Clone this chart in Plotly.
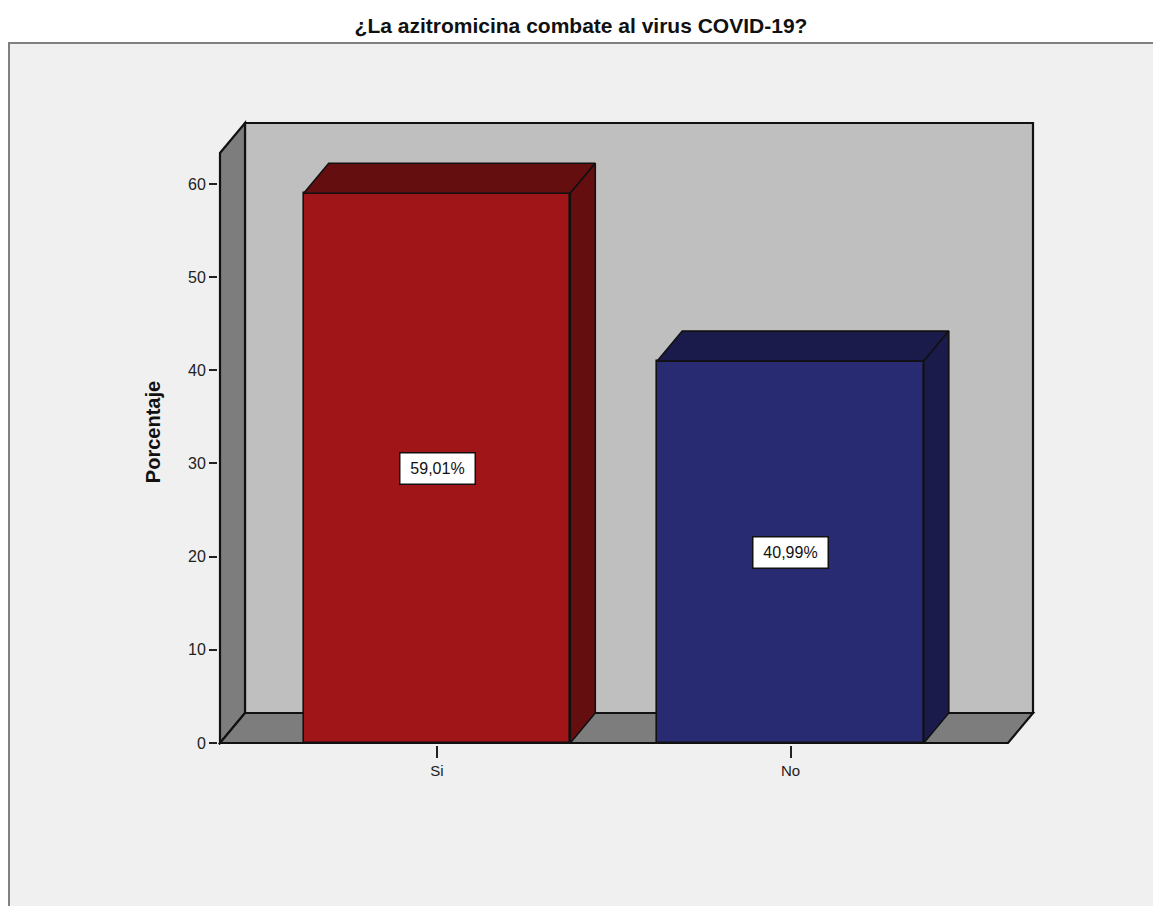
import plotly.graph_objects as go

# Data
categories = ["Si", "No"]
porcentaje = [59.01, 40.99]
etiquetas = ["59,01%", "40,99%"]
y_ticks = [0, 10, 20, 30, 40, 50, 60]

# Style
FONT = "Liberation Sans, Arial, sans-serif"
caras = ["#a01518", "#282a72"]
lados = ["#650e10", "#1a1b4b"]
PARED = "#bfbfbf"
SUELO = "#7d7d7d"
FONDO = "#f0f0f0"
NEGRO = "#111111"

# Scale: 354 px per category step, 9.317 px per percentage point
PX_X = 354.0
PX_Y = 9.317
X0_PX = 437.0
Y0_PX = 743.0
L, R, T, B = 218, 1036, 119, 745
W, H = 1153, 906
to_x = lambda px: (px - X0_PX) / PX_X
to_y = lambda px: (Y0_PX - px) / PX_Y

DX = 25 / PX_X
DY = 30 / PX_Y
XMIN = to_x(220)
XMAX = to_x(1008)
YMAX = to_y(153)
ANCHO = 0.753
pos = [0, 0.9986]

def poly(xs, ys, fill, lw=2.2):
    path = "M " + " L ".join(f"{a},{b}" for a, b in zip(xs, ys)) + " Z"
    return dict(type="path", path=path, xref="x", yref="y", fillcolor=fill,
                line=dict(color=NEGRO, width=lw), layer="below")

# paper coordinates for frame
px = lambda v: (v - L) / (R - L)
py = lambda v: (B - v) / (B - T)

shapes = [
    dict(type="rect", xref="paper", yref="paper", x0=px(9), x1=px(1160), y0=py(43), y1=py(915),
         fillcolor=FONDO, line=dict(color="#808080", width=2), layer="below"),
    poly([XMIN + DX, XMAX + DX, XMAX + DX, XMIN + DX], [DY, DY, YMAX + DY, YMAX + DY], PARED),
    poly([XMIN, XMIN + DX, XMIN + DX, XMIN], [0, DY, YMAX + DY, YMAX], SUELO),
    poly([XMIN, XMAX, XMAX + DX, XMIN + DX], [0, 0, DY, DY], SUELO),
]

fig = go.Figure()
fig.add_trace(go.Bar(
    x=pos, y=porcentaje, width=ANCHO,
    marker=dict(color=caras, line=dict(color=NEGRO, width=1.6)),
    hoverinfo="skip", showlegend=False,
))

for p, v, lado in zip(pos, porcentaje, lados):
    a, b = p - ANCHO / 2, p + ANCHO / 2
    fig.add_trace(go.Scatter(
        x=[a, b, b + DX, a + DX, a], y=[v, v, v + DY, v + DY, v], mode="lines",
        fill="toself", fillcolor=lado, line=dict(color=NEGRO, width=1.6),
        hoverinfo="skip", showlegend=False, cliponaxis=False,
    ))
    fig.add_trace(go.Scatter(
        x=[b, b + DX, b + DX, b, b], y=[0, DY, v + DY, v, 0], mode="lines",
        fill="toself", fillcolor=lado, line=dict(color=NEGRO, width=1.6),
        hoverinfo="skip", showlegend=False, cliponaxis=False,
    ))

annotations = [
    dict(x=p, y=v / 2, xref="x", yref="y", text=t, showarrow=False,
         font=dict(family=FONT, size=16, color="#111111"),
         bgcolor="white", bordercolor=NEGRO, borderwidth=1.5,
         width=72, height=28, align="center", valign="middle")
    for p, v, t in zip(pos, porcentaje, etiquetas)
]

fig.update_layout(
    width=W, height=H, autosize=False,
    margin=dict(l=L, r=W - R, t=T, b=H - B, pad=0),
    paper_bgcolor="white", plot_bgcolor="rgba(0,0,0,0)",
    bargap=0, showlegend=False,
    shapes=shapes, annotations=annotations,
    title=dict(text="<b>¿La azitromicina combate al virus COVID-19?</b>",
               xref="paper", x=px(581), xanchor="center",
               yref="container", y=1 - 26 / H, yanchor="middle",
               font=dict(family=FONT, size=21, color="#111111")),
    xaxis=dict(range=[to_x(L), to_x(R)], tickvals=pos, ticktext=categories,
               ticks="outside", ticklen=12, tickwidth=1.5, tickcolor="#222222",
               showgrid=False, zeroline=False, showline=False,
               tickfont=dict(family=FONT, size=15, color="#222222")),
    yaxis=dict(range=[to_y(B), to_y(T)], tickvals=y_ticks,
               ticks="outside", ticklen=8, tickwidth=1.5, tickcolor="#222222",
               showgrid=False, zeroline=False, showline=False,
               tickfont=dict(family=FONT, size=16, color="#222222"),
               title=dict(text="<b>Porcentaje</b>", standoff=22,
                          font=dict(family=FONT, size=20, color="#111111"))),
)

fig.write_html("out.html", config={"displayModeBar": False},
               post_script="document.body.style.margin='0';document.documentElement.style.overflow='hidden';")
